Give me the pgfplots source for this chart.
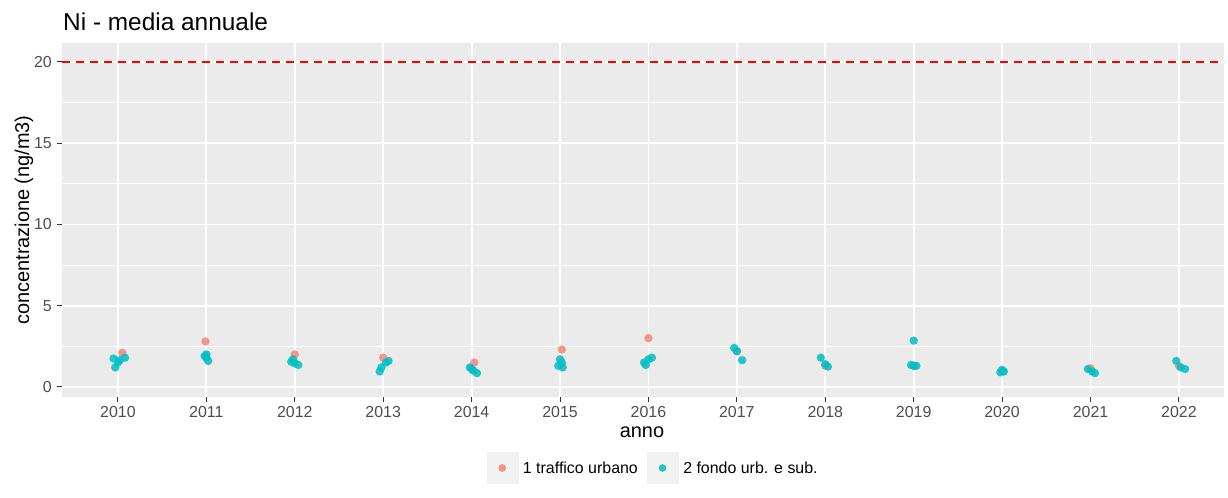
\documentclass[border=0pt]{standalone}
\usepackage{pgfplots}
\pgfplotsset{compat=1.18}
\usepackage{fontspec}
\setmainfont{Liberation Sans}
\definecolor{pinkc}{HTML}{F8766D}
\definecolor{cyanc}{HTML}{00BFC4}
\definecolor{panelbg}{HTML}{EBEBEB}
\definecolor{ticktext}{HTML}{4D4D4D}
\definecolor{tickc}{HTML}{333333}
\definecolor{keybg}{HTML}{F2F2F2}
\begin{document}
\begin{tikzpicture}[x=1bp,y=1bp]
\useasboundingbox (-62,-101) rectangle (1166,397);
\begin{axis}[at={(0,0)}, anchor=south west, scale only axis,
  width=1162bp, height=354bp,
  xmin=2009.367, xmax=2022.51, ymin=-0.62, ymax=21.17,
  axis background/.style={fill=panelbg},
  axis line style={draw=none},
  xtick={2010,2011,2012,2013,2014,2015,2016,2017,2018,2019,2020,2021,2022},
  ytick={0,5,10,15,20}, minor ytick={2.5,7.5,12.5,17.5},
  grid=both,
  major grid style={white, line width=1.8bp},
  minor grid style={white, line width=0.9bp},
  tick align=outside, major tick length=5bp, minor tick length=0pt,
  tick pos=left,
  tick style={tickc, line width=1bp},
  ticklabel style={font=\fontsize{16}{18}\selectfont, text=ticktext},
  xticklabel style={anchor=north, inner sep=0pt, yshift=-4bp},
  yticklabel style={anchor=east, inner sep=0pt, xshift=-5bp},
  /pgf/number format/assume math mode=true,
  /pgf/number format/1000 sep={},
  legend columns=2,
  legend style={at={(axis description cs:0.51,-0.2006)}, anchor=center,
    draw=none, fill=none, font=\fontsize{16}{18}\selectfont,
    /tikz/every even column/.append style={column sep=4bp},
    nodes={inner sep=5bp}},
  clip=false,
]
\addplot[red, dash pattern=on 8bp off 6bp, line width=1.6bp, forget plot]
  coordinates {(2009.367,20) (2022.51,20)};
\addplot[only marks, color=pinkc, mark=*, mark size=4.2bp,
  mark options={draw opacity=0, fill=pinkc, fill opacity=0.75},
  legend image code/.code={\fill[keybg] (-7bp,-15.5bp) rectangle (24bp,15.5bp);
    \fill[pinkc, fill opacity=0.75] (8.5bp,0bp) circle (3.5bp);}]
  coordinates {
  (2010.05,2.1) (2010.99,2.8) (2012.0,2.0) (2013.0,1.8) (2014.03,1.5)
  (2015.02,2.3) (2016.0,3.0) (2017.0,2.2) (2018.0,1.3) (2019.0,1.3)
  (2020.0,1.0) (2021.0,1.15) (2022.0,1.3)};
\addlegendentry{1 traffico urbano}
\addplot[only marks, color=cyanc, mark=*, mark size=4.2bp,
  mark options={draw opacity=0, fill=cyanc, fill opacity=0.85},
  legend image code/.code={\fill[keybg] (-7bp,-15.5bp) rectangle (24bp,15.5bp);
    \fill[cyanc, fill opacity=0.85] (8.5bp,0bp) circle (3.5bp);}]
  coordinates {
  (2009.95,1.75) (2010.0,1.5) (2009.97,1.2) (2010.08,1.8) (2010.02,1.65)
  (2011.0,2.0) (2011.0,1.8) (2011.02,1.6) (2010.98,1.9)
  (2011.98,1.7) (2012.0,1.45) (2012.04,1.35) (2011.96,1.55)
  (2013.03,1.5) (2012.98,1.2) (2012.96,0.95) (2013.06,1.6)
  (2013.98,1.2) (2014.02,1.0) (2014.06,0.85) (2014.0,1.1)
  (2015.0,1.7) (2015.02,1.5) (2014.98,1.3) (2015.03,1.2)
  (2015.95,1.5) (2016.0,1.7) (2016.04,1.8) (2015.97,1.35)
  (2016.97,2.4) (2017.0,2.2) (2017.06,1.65)
  (2017.95,1.8) (2018.0,1.4) (2018.03,1.25)
  (2019.0,2.85) (2019.0,1.3) (2018.97,1.35) (2019.03,1.3)
  (2020.0,1.05) (2019.98,0.9) (2020.02,0.95)
  (2020.97,1.1) (2021.02,0.95) (2021.05,0.85)
  (2021.97,1.6) (2022.02,1.2) (2022.07,1.1)};
\addlegendentry{2 fondo urb. e sub.}
\end{axis}
\node[anchor=base west, inner sep=0pt, font=\fontsize{24.5}{28}\selectfont] at (1,366) {Ni - media annuale};
\node[rotate=90, inner sep=0pt, font=\fontsize{20}{24}\selectfont] at (-38,177) {concentrazione (ng/m3)};
\node[inner sep=0pt, font=\fontsize{20}{24}\selectfont] at (580,-35) {anno};
\end{tikzpicture}
\end{document}
